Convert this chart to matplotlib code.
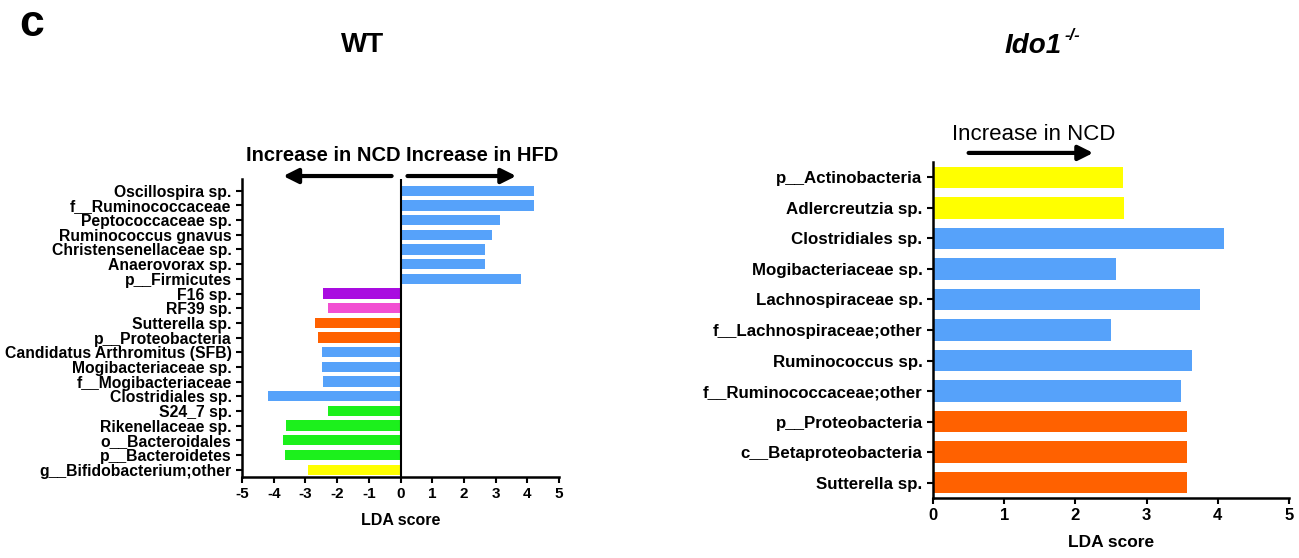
import matplotlib.pyplot as plt
import numpy as np

plt.rcParams['font.family'] = ['Liberation Sans', 'DejaVu Sans']
plt.rcParams['axes.unicode_minus'] = False

BLUE = '#56A2FA'
PURPLE = '#A90CE0'
PINK = '#F24FD2'
ORANGE = '#FF6100'
GREEN = '#1CF01C'
YELLOW = '#FFFF00'

# WT: taxa listed top to bottom, LDA score (negative = enriched in NCD)
wt_taxa = ['Oscillospira sp.', 'f__Ruminococcaceae', 'Peptococcaceae sp.',
           'Ruminococcus gnavus', 'Christensenellaceae sp.', 'Anaerovorax sp.',
           'p__Firmicutes', 'F16 sp.', 'RF39 sp.', 'Sutterella sp.',
           'p__Proteobacteria', 'Candidatus Arthromitus (SFB)',
           'Mogibacteriaceae sp.', 'f__Mogibacteriaceae', 'Clostridiales sp.',
           'S24_7 sp.', 'Rikenellaceae sp.', 'o__Bacteroidales',
           'p__Bacteroidetes', 'g__Bifidobacterium;other']
wt_lda = [4.22, 4.22, 3.15, 2.89, 2.66, 2.66, 3.81, -2.46, -2.28, -2.71,
          -2.59, -2.49, -2.49, -2.46, -4.18, -2.28, -3.60, -3.70, -3.64, -2.93]
wt_colors = [BLUE] * 7 + [PURPLE, PINK, ORANGE, ORANGE] + [BLUE] * 4 + [GREEN] * 4 + [YELLOW]

# Ido1-/-: all enriched in NCD
ko_taxa = ['p__Actinobacteria', 'Adlercreutzia sp.', 'Clostridiales sp.',
           'Mogibacteriaceae sp.', 'Lachnospiraceae sp.', 'f__Lachnospiraceae;other',
           'Ruminococcus sp.', 'f__Ruminococcaceae;other', 'p__Proteobacteria',
           'c__Betaproteobacteria', 'Sutterella sp.']
ko_lda = [2.67, 2.68, 4.09, 2.57, 3.75, 2.50, 3.64, 3.49, 3.57, 3.57, 3.57]
ko_colors = [YELLOW] * 2 + [BLUE] * 6 + [ORANGE] * 3

W, H = 1299, 558
fig = plt.figure(figsize=(W / 100, H / 100), dpi=100)


def px_axes(x0, y0, x1, y1):
    return fig.add_axes([x0 / W, 1 - y1 / H, (x1 - x0) / W, (y1 - y0) / H])


def style(ax, lab_size):
    for s in ['top', 'right']:
        ax.spines[s].set_visible(False)
    for s in ['left', 'bottom']:
        ax.spines[s].set_linewidth(1.8)
    ax.tick_params(axis='both', width=1.5, length=4, direction='out')
    ax.tick_params(axis='y', labelsize=lab_size)
    for t in ax.get_yticklabels() + ax.get_xticklabels():
        t.set_fontweight('bold')


# left panel
ax1 = px_axes(242, 179, 559, 477)
y1 = np.arange(len(wt_taxa))[::-1]
ax1.barh(y1, wt_lda, height=0.7, color=wt_colors)
ax1.axvline(0, color='black', lw=1.5)
ax1.set_xlim(-5, 5)
ax1.set_ylim(-0.5, 19.8)
ax1.set_xticks(range(-5, 6))
ax1.set_yticks(y1)
ax1.set_yticklabels(wt_taxa)
ax1.tick_params(axis='x', labelsize=11)
style(ax1, 11.3)
ax1.set_xlabel('LDA score', fontsize=11.5, fontweight='bold', labelpad=8)

tr1 = ax1.get_xaxis_transform()
arrow = dict(arrowstyle='-|>', lw=3, mutation_scale=22, color='black',
             shrinkA=0, shrinkB=0)
ax1.annotate('', xy=(-3.7, 1.01), xytext=(-0.28, 1.01), xycoords=tr1,
             textcoords=tr1, arrowprops=arrow, annotation_clip=False)
ax1.annotate('', xy=(3.65, 1.01), xytext=(0.22, 1.01), xycoords=tr1,
             textcoords=tr1, arrowprops=arrow, annotation_clip=False)
ax1.text(-2.42, 1.08, 'Increase in NCD', transform=tr1, ha='center', va='center',
         fontsize=14.5, fontweight='bold')
ax1.text(2.58, 1.08, 'Increase in HFD', transform=tr1, ha='center', va='center',
         fontsize=14.5, fontweight='bold')

# right panel
ax2 = px_axes(933, 162, 1289, 498)
y2 = np.arange(len(ko_taxa))[::-1]
ax2.barh(y2, ko_lda, height=0.7, color=ko_colors)
ax2.set_xlim(0, 5)
ax2.set_ylim(-0.5, 10.5)
ax2.set_xticks(range(0, 6))
ax2.set_yticks(y2)
ax2.set_yticklabels(ko_taxa)
ax2.tick_params(axis='x', labelsize=12)
style(ax2, 12.2)
ax2.set_xlabel('LDA score', fontsize=12.5, fontweight='bold', labelpad=8)

tr2 = ax2.get_xaxis_transform()
ax2.annotate('', xy=(2.25, 1.027), xytext=(0.5, 1.027), xycoords=tr2,
             textcoords=tr2, arrowprops=arrow, annotation_clip=False)
ax2.text(1.42, 1.083, 'Increase in NCD', transform=tr2, ha='center', va='center',
         fontsize=16)

# panel titles
fig.text(363 / W, 1 - 45 / H, 'WT', ha='center', va='center', fontsize=20,
         fontweight='bold')
fig.text(1005 / W, 1 - 46 / H, 'Ido1', ha='left', va='center', fontsize=20,
         fontweight='bold', fontstyle='italic')
fig.text(1065 / W, 1 - 35 / H, '-/-', ha='left', va='center', fontsize=12,
         fontweight='bold', fontstyle='italic')
fig.text(32 / W, 1 - 24 / H, 'c', ha='center', va='center', fontsize=32,
         fontweight='bold')

fig.savefig('out.png', dpi=100)
